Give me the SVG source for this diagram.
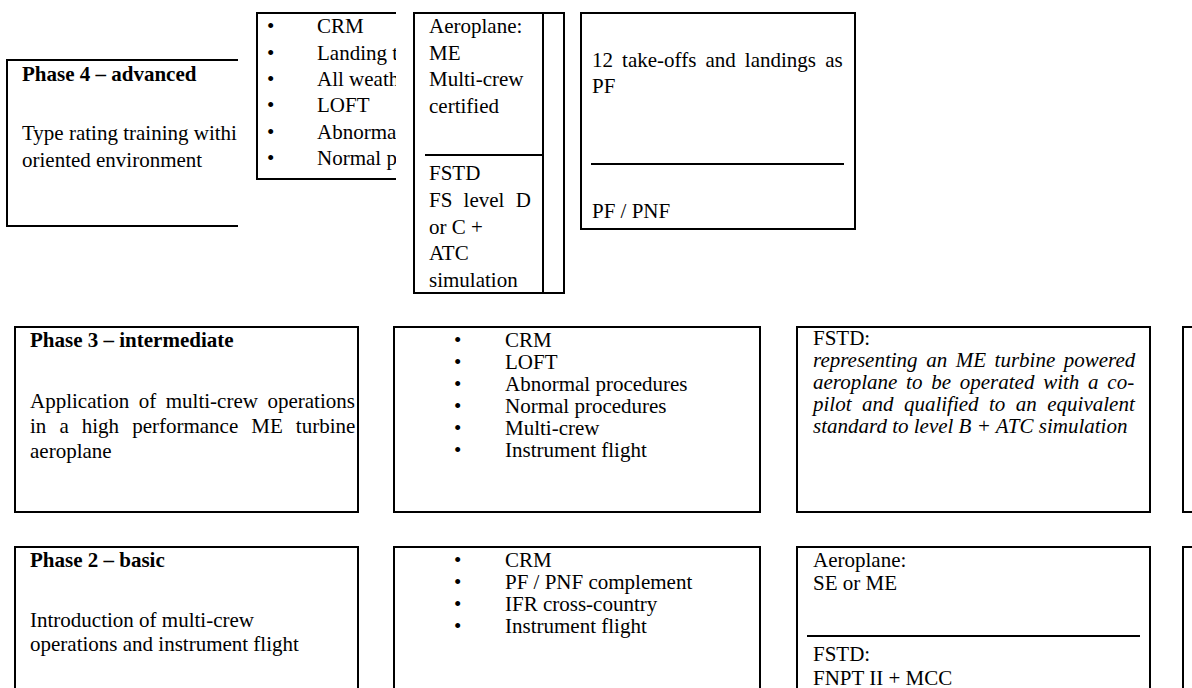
<svg xmlns="http://www.w3.org/2000/svg" width="1192" height="688" viewBox="0 0 1192 688">
<style>
.b{fill:#fff;stroke:#000;stroke-width:2}
.l{fill:none;stroke:#000;stroke-width:2}
text{font-family:"Liberation Serif","Times New Roman",serif;font-size:21px;fill:#000}
.t{font-weight:bold}
.i{font-style:italic}
</style>
<defs>
<clipPath id="c4"><rect x="0" y="0" width="237" height="240"/></clipPath>
<clipPath id="cb"><rect x="250" y="0" width="146" height="190"/></clipPath>
</defs>
<rect width="1192" height="688" fill="#fff"/>
<g id="connectors"></g>
<g id="phase4">
<path class="l" d="M238,60 H7 V226 H238"/>
<g clip-path="url(#c4)">
<text class="t" x="22" y="81">Phase 4 – advanced</text>
<text x="22" y="140">Type rating training withi</text>
<text x="22" y="167">oriented environment</text>
</g>
</g>
<g id="phase4-content">
<path class="l" d="M396,13 H257 V179 H396"/>
<g clip-path="url(#cb)">
<text x="267" y="33">•</text><text x="317" y="33">CRM</text>
<text x="267" y="60">•</text><text x="317" y="60">Landing t</text>
<text x="267" y="86">•</text><text x="317" y="86">All weath</text>
<text x="267" y="112">•</text><text x="317" y="112">LOFT</text>
<text x="267" y="139">•</text><text x="317" y="139">Abnorma</text>
<text x="267" y="165">•</text><text x="317" y="165">Normal p</text>
</g>
</g>
<g id="phase4-device">
<rect class="b" x="414" y="13" width="150" height="280"/>
<line class="l" x1="543" y1="13" x2="543" y2="293"/>
<line class="l" x1="425" y1="155" x2="543" y2="155"/>
<text x="429" y="33">Aeroplane:</text>
<text x="429" y="60">ME</text>
<text x="429" y="86">Multi-crew</text>
<text x="429" y="113">certified</text>
<text x="429" y="180">FSTD</text>
<text x="429" y="207" word-spacing="6">FS level D</text>
<text x="429" y="234">or C +</text>
<text x="429" y="260">ATC</text>
<text x="429" y="287">simulation</text>
</g>
<g id="phase4-req">
<rect class="b" x="581" y="13" width="274" height="216"/>
<text x="592" y="67" word-spacing="3.85">12 take-offs and landings as</text>
<text x="592" y="93">PF</text>
<line class="l" x1="591" y1="164" x2="844" y2="164"/>
<text x="592" y="218">PF / PNF</text>
</g>
<g id="phase3">
<rect class="b" x="15" y="327" width="343" height="185"/>
<text class="t" x="30" y="347">Phase 3 – intermediate</text>
<text x="30" y="408" word-spacing="4.3">Application of multi-crew operations</text>
<text x="30" y="433" word-spacing="7.8">in a high performance ME turbine</text>
<text x="30" y="458">aeroplane</text>
</g>
<g id="phase3-content">
<rect class="b" x="394" y="327" width="366" height="185"/>
<text x="454" y="347">•</text><text x="505" y="347">CRM</text>
<text x="454" y="369">•</text><text x="505" y="369">LOFT</text>
<text x="454" y="391">•</text><text x="505" y="391">Abnormal procedures</text>
<text x="454" y="413">•</text><text x="505" y="413">Normal procedures</text>
<text x="454" y="435">•</text><text x="505" y="435">Multi-crew</text>
<text x="454" y="457">•</text><text x="505" y="457">Instrument flight</text>
</g>
<g id="phase3-device">
<rect class="b" x="797" y="327" width="353" height="185"/>
<text x="813" y="345">FSTD:</text>
<text class="i" x="813" y="367" word-spacing="3.3">representing an ME turbine powered</text>
<text class="i" x="813" y="389" word-spacing="3.5">aeroplane to be operated with a co-</text>
<text class="i" x="813" y="411" word-spacing="5.2">pilot and qualified to an equivalent</text>
<text class="i" x="813" y="433">standard to level B + ATC simulation</text>
</g>
<g id="phase3-req">
<rect class="b" x="1183" y="327" width="40" height="185"/>
</g>
<g id="phase2">
<rect class="b" x="15" y="547" width="343" height="160"/>
<text class="t" x="30" y="567">Phase 2 – basic</text>
<text x="30" y="627">Introduction of multi-crew</text>
<text x="30" y="651">operations and instrument flight</text>
</g>
<g id="phase2-content">
<rect class="b" x="394" y="547" width="366" height="160"/>
<text x="454" y="567">•</text><text x="505" y="567">CRM</text>
<text x="454" y="589">•</text><text x="505" y="589">PF / PNF complement</text>
<text x="454" y="611">•</text><text x="505" y="611">IFR cross-country</text>
<text x="454" y="633">•</text><text x="505" y="633">Instrument flight</text>
</g>
<g id="phase2-device">
<rect class="b" x="797" y="547" width="353" height="160"/>
<text x="813" y="567">Aeroplane:</text>
<text x="813" y="590">SE or ME</text>
<line class="l" x1="807" y1="636" x2="1140" y2="636"/>
<text x="813" y="661">FSTD:</text>
<text x="813" y="685">FNPT II + MCC</text>
</g>
<g id="phase2-req">
<rect class="b" x="1183" y="547" width="40" height="160"/>
</g>
</svg>
